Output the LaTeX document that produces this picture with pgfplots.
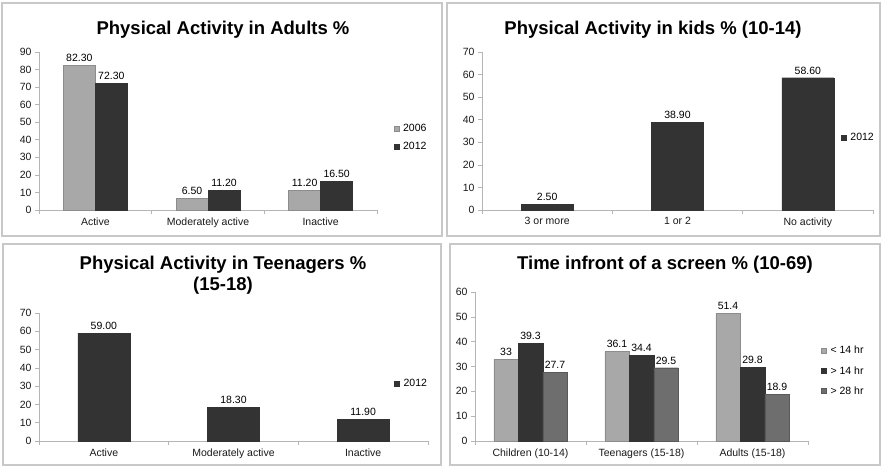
\documentclass[border=0pt]{standalone}
\usepackage{pgfplots}
\pgfplotsset{compat=1.18}
\usepackage{fontspec}
\setmainfont{Liberation Sans}
\definecolor{lg}{HTML}{A8A8A8}
\definecolor{dg}{HTML}{333333}
\definecolor{mg}{HTML}{6E6E6E}
\definecolor{ax}{HTML}{B5B5B5}
\definecolor{bd}{HTML}{C8C8C8}
\newcommand{\lf}{\fontsize{10.5}{12}\selectfont}
\newcommand{\tf}{\fontsize{18.5}{21}\selectfont\bfseries}
\pgfplotsset{
  panel/.style={
    scale only axis, axis lines*=left, ymin=0, xmin=-0.5, xmax=2.5,
    xtick={0,1,2}, minor xtick={-0.5,0.5,1.5,2.5},
    tick align=outside, major x tick style={draw=none},
    minor tick length=4pt, major tick length=4pt,
    every tick/.style={ax, line width=0.6pt},
    axis line style={ax, line width=0.8pt},
    tick label style={font=\lf, text=black!90},
    /pgf/number format/assume math mode=true,
    ybar, clip=false,
    legend style={draw=none, fill=none, font=\lf, anchor=west, row sep=5pt, cells={anchor=west}, nodes={inner xsep=4pt}},
    legend image code/.code={\fill[#1] (0pt,-2.5pt) rectangle (5pt,2.5pt);},
    every node near coord/.append style={font=\lf, text=black},
  },
  dec/.style={nodes near coords={\pgfmathprintnumber[fixed,zerofill,precision=2]{\pgfplotspointmeta}}},
}
\begin{document}
\begin{tikzpicture}[x=1pt,y=1pt]
\useasboundingbox (0,0) rectangle (883,466);
% panel borders
\draw[bd, line width=1.5pt] (2,230) rectangle (442,463);
\draw[bd, line width=1.5pt] (447,230) rectangle (880,463);
\draw[bd, line width=1.5pt] (3,1) rectangle (441,222);
\draw[bd, line width=1.5pt] (450,1) rectangle (880,222);
% titles
\node[font=\tf] at (223,436) {Physical Activity in Adults \%};
\node[font=\tf] at (653,436) {Physical Activity in kids \% (10-14)};
\node[font=\tf, align=center] at (223,191) {Physical Activity in Teenagers \%\\(15-18)};
\node[font=\tf] at (665,201) {Time infront of a screen \% (10-69)};

% Panel 1
\begin{axis}[panel, at={(39pt,256pt)}, anchor=south west, width=338pt, height=158pt,
  ymax=90, ytick={0,10,...,90}, bar width=32pt, dec,
  xticklabels={Active, Moderately active, Inactive},
  legend style={at={(1.04,0.46)}}]
\addplot[fill=lg, draw=black!45, bar shift=-16pt] coordinates {(0,82.3) (1,6.5) (2,11.2)};
\addplot[fill=dg, draw=black!80, bar shift=16pt] coordinates {(0,72.3) (1,11.2) (2,16.5)};
\legend{2006,2012}
\end{axis}

% Panel 2
\begin{axis}[panel, at={(482pt,256pt)}, anchor=south west, width=391pt, height=158pt,
  ymax=70, ytick={0,10,...,70}, bar width=52pt, dec,
  xticklabels={3 or more, 1 or 2, No activity},
  legend style={at={(0.91,0.46)}}]
\addplot[fill=dg, draw=black!80, bar shift=0pt] coordinates {(0,2.5) (1,38.9) (2,58.6)};
\legend{2012}
\end{axis}

% Panel 3
\begin{axis}[panel, at={(39pt,25pt)}, anchor=south west, width=389pt, height=128pt,
  ymax=70, ytick={0,10,...,70}, bar width=52pt, dec,
  xticklabels={Active, Moderately active, Inactive},
  legend style={at={(0.905,0.445)}}]
\addplot[fill=dg, draw=black!80, bar shift=0pt] coordinates {(0,59.0) (1,18.3) (2,11.9)};
\legend{2012}
\end{axis}

% Panel 4
\begin{axis}[panel, at={(475pt,25pt)}, anchor=south west, width=333pt, height=149pt,
  ymax=60, ytick={0,10,...,60}, bar width=24.5pt, nodes near coords,
  xticklabels={Children (10-14), Teenagers (15-18), Adults (15-18)},
  legend style={at={(1.03,0.47)}, row sep=7pt}]
\addplot[fill=lg, draw=black!45, bar shift=-24.5pt] coordinates {(0,33) (1,36.1) (2,51.4)};
\addplot[fill=dg, draw=black!80, bar shift=0pt] coordinates {(0,39.3) (1,34.4) (2,29.8)};
\addplot[fill=mg, draw=black!65, bar shift=24.5pt] coordinates {(0,27.7) (1,29.5) (2,18.9)};
\legend{< 14 hr, > 14 hr, > 28 hr}
\end{axis}
\end{tikzpicture}
\end{document}
